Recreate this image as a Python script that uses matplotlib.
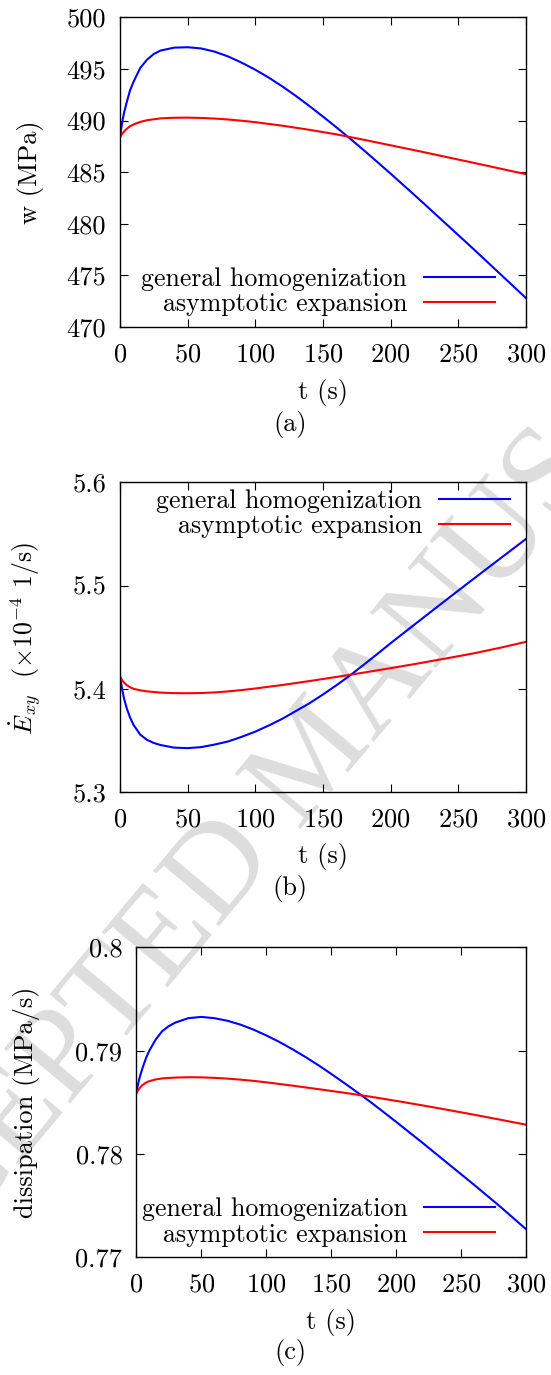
import matplotlib
matplotlib.use("Agg")
import matplotlib.pyplot as plt
from matplotlib.ticker import FuncFormatter

plt.rcParams['font.family'] = 'serif'
plt.rcParams['font.serif'] = ['cmr10']
plt.rcParams['mathtext.fontset'] = 'cm'
plt.rcParams['axes.formatter.use_mathtext'] = True
plt.rcParams['font.size'] = 19

# time samples (s), denser near t=0 where the curves bend fast
t_gh = [0, 1, 2, 3, 5, 7.5, 10, 15, 20, 25, 30, 40, 50, 60, 70, 80, 90, 100, 110, 120,
        130, 140, 150, 160, 170, 180, 190, 200, 220, 240, 260, 280, 300]
t_ae = [0, 1, 2, 3, 5, 7.5, 10, 15, 20, 30, 40, 50, 60, 70, 80, 90, 100, 120, 140, 160,
        180, 200, 220, 240, 260, 280, 300]

# (a) w (MPa)
w_gh = [488.4, 489.3, 490.1, 490.75, 491.8, 492.95, 493.75, 495.1, 495.9, 496.45, 496.78,
        497.06, 497.1, 496.98, 496.67, 496.2, 495.6, 494.92, 494.15, 493.3, 492.38, 491.4,
        490.38, 489.33, 488.25, 487.14, 486.0, 484.85, 482.5, 480.1, 477.7, 475.25, 472.8]
w_ae = [488.4, 488.6, 488.78, 488.94, 489.2, 489.45, 489.62, 489.87, 490.03, 490.21,
        490.27, 490.28, 490.25, 490.19, 490.1, 489.98, 489.84, 489.5, 489.1, 488.66,
        488.14, 487.6, 487.06, 486.5, 485.94, 485.37, 484.8]

# (b) strain rate (x1e-4 1/s)
e_gh = [5.412, 5.404, 5.397, 5.3905, 5.381, 5.372, 5.365, 5.3555, 5.3505, 5.3475, 5.3455,
        5.343, 5.3425, 5.3435, 5.346, 5.349, 5.3535, 5.3585, 5.3645, 5.371, 5.3785,
        5.386, 5.3945, 5.4035, 5.413, 5.4232, 5.4336, 5.4442, 5.4647, 5.4851, 5.5053,
        5.5253, 5.5452]
e_ae = [5.412, 5.4095, 5.4075, 5.406, 5.4035, 5.4015, 5.400, 5.3985, 5.3975, 5.3963,
        5.3958, 5.3957, 5.3959, 5.3965, 5.3975, 5.3988, 5.4003, 5.4037, 5.4075, 5.4115,
        5.4157, 5.420, 5.4245, 5.4292, 5.434, 5.4395, 5.4455]

# (c) dissipation (MPa/s)
d_gh = [0.78587, 0.78655, 0.78712, 0.7876, 0.7884, 0.7893, 0.7900, 0.7911, 0.7919,
        0.79238, 0.79272, 0.79315, 0.79327, 0.79315, 0.7929, 0.79253, 0.79205, 0.79148,
        0.79085, 0.79015, 0.7894, 0.7886, 0.78775, 0.78687, 0.78597, 0.78505, 0.78408,
        0.7831, 0.7811, 0.77905, 0.777, 0.7749, 0.7727]
d_ae = [0.78587, 0.7861, 0.7863, 0.78645, 0.7867, 0.78692, 0.78705, 0.78722, 0.78732,
        0.7874, 0.78743, 0.78742, 0.78737, 0.7873, 0.7872, 0.78708, 0.78694, 0.78662,
        0.78628, 0.78593, 0.78555, 0.78514, 0.78471, 0.78426, 0.7838, 0.78332, 0.78283]

labels = ['general homogenization', 'asymptotic expansion']
xticks = [0, 50, 100, 150, 200, 250, 300]

W, H = 551, 1375
fig = plt.figure(figsize=(W / 100, H / 100), dpi=100)

# watermark behind everything
fig.text(318 / W, 1 - 760 / H, 'ACCEPTED MANUSCRIPT', rotation=50, ha='center', va='center',
         fontsize=94, color='#dddddd', family='Liberation Serif', zorder=-5)


def px_axes(l, r, t, b):
    return fig.add_axes([l / W, 1 - b / H, (r - l) / W, (b - t) / H])


def style(ax, ylim, yticks):
    ax.set_facecolor('none')
    ax.set_xlim(0, 300)
    ax.set_ylim(*ylim)
    ax.set_xticks(xticks)
    ax.set_yticks(yticks)
    ax.yaxis.set_major_formatter(FuncFormatter(lambda v, p: '%g' % round(v, 4)))
    ax.tick_params(direction='in', length=6, width=0.8, top=True, right=True,
                   labelsize=19, pad=10)
    ax.tick_params(axis='x', pad=11)
    for s in ax.spines.values():
        s.set_linewidth(1.0)


def add_legend(ax, x, y):
    ax.legend(loc='center right', bbox_to_anchor=(x, y), frameon=False, markerfirst=False,
              fontsize=18.6, handlelength=2.75, handletextpad=0.65, labelspacing=0.06,
              borderpad=0, borderaxespad=0)


axa = px_axes(120, 526, 17.3, 327)
axa.plot(t_gh, w_gh, color='#0000ff', lw=1.5, label=labels[0])
axa.plot(t_ae, w_ae, color='#ff0000', lw=1.5, label=labels[1])
style(axa, (470, 500), [470, 475, 480, 485, 490, 495, 500])
add_legend(axa, 0.924, 0.1145)
fig.text(30 / W, 1 - 172 / H, 'w (MPa)', rotation=90, ha='center', va='center')
fig.text(323 / W, 1 - 393 / H, 't (s)', ha='center', va='center')
fig.text(290 / W, 1 - 425 / H, '(a)', ha='center', va='center')

axb = px_axes(120, 526, 482.4, 792)
axb.plot(t_gh, e_gh, color='#0000ff', lw=1.5, label=labels[0])
axb.plot(t_ae, e_ae, color='#ff0000', lw=1.5, label=labels[1])
style(axb, (5.3, 5.6), [5.3, 5.4, 5.5, 5.6])
add_legend(axb, 0.9606, 0.898)
fig.text(26 / W, 1 - 638 / H, r'$\dot{E}_{xy}$  ($\times10^{-4}$ 1/s)', rotation=90,
         ha='center', va='center', fontsize=18.5)
fig.text(323 / W, 1 - 857 / H, 't (s)', ha='center', va='center')
fig.text(290 / W, 1 - 888 / H, '(b)', ha='center', va='center')

axc = px_axes(136.3, 526.3, 947.4, 1257.3)
axc.plot(t_gh, d_gh, color='#0000ff', lw=1.5, label=labels[0])
axc.plot(t_ae, d_ae, color='#ff0000', lw=1.5, label=labels[1])
style(axc, (0.77, 0.80), [0.77, 0.78, 0.79, 0.80])
add_legend(axc, 0.9204, 0.1139)
fig.text(26 / W, 1 - 1102 / H, 'dissipation (MPa/s)', rotation=90, ha='center', va='center')
fig.text(331 / W, 1 - 1322 / H, 't (s)', ha='center', va='center')
fig.text(290 / W, 1 - 1353 / H, '(c)', ha='center', va='center')

fig.savefig('out.png', dpi=100)
